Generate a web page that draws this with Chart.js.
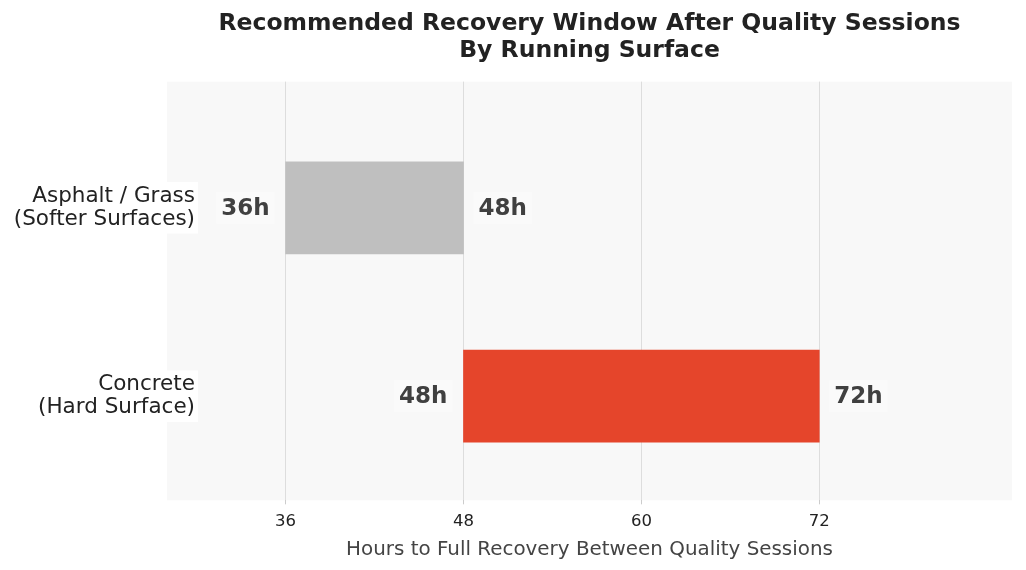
<!DOCTYPE html>
<html>
<head>
<meta charset="utf-8">
<script src="https://cdn.jsdelivr.net/npm/chart.js@4.4.1/dist/chart.umd.min.js"></script>
<style>
  html, body { margin: 0; padding: 0; background: #fff; }
  #wrap { width: 1026px; height: 570px; }
</style>
</head>
<body>
<div id="wrap"><canvas id="recovery"></canvas></div>
<script>
// data
const surfaces = [['Asphalt / Grass', '(Softer Surfaces)'], ['Concrete', '(Hard Surface)']];
const recoveryStart = [36, 48];
const recoveryEnd = [48, 72];
const barColors = ['#bfbfbf', '#e5452b'];
const hourTicks = [36, 48, 60, 72];

Chart.defaults.font.family = "'DejaVu Sans', sans-serif";

const yLabelFont = { size: 21.5, lineHeight: 1.06 };
const yLabelPad = 28; // labels overlap the plot background

// plot background + white box behind the y labels
const plotBg = {
  id: 'plotBg',
  beforeDraw(chart) {
    const {ctx, chartArea: a} = chart;
    const ys = chart.scales.y;
    ctx.save();
    ctx.fillStyle = '#f8f8f8';
    ctx.fillRect(a.left, a.top, a.right - a.left, a.bottom - a.top);
    ctx.font = yLabelFont.size + 'px "DejaVu Sans"';
    ctx.fillStyle = '#ffffff';
    const lh = yLabelFont.size * yLabelFont.lineHeight;
    surfaces.forEach((lines, i) => {
      const w = Math.max(...lines.map(l => ctx.measureText(l).width));
      const y = ys.getPixelForValue(i);
      const h = lh * lines.length;
      const xr = ys.right + yLabelPad;
      ctx.fillRect(xr - w - 3, y - h / 2 - 3, w + 6, h + 6);
    });
    ctx.restore();
  }
};

// "36h" / "48h" labels at both ends of each bar
const endLabels = {
  id: 'endLabels',
  afterDatasetsDraw(chart) {
    const ctx = chart.ctx;
    const meta = chart.getDatasetMeta(0);
    ctx.save();
    ctx.font = 'bold 23px "DejaVu Sans"';
    ctx.textBaseline = 'middle';
    meta.data.forEach((bar, i) => {
      const xs = chart.scales.x.getPixelForValue(recoveryStart[i]);
      const xe = chart.scales.x.getPixelForValue(recoveryEnd[i]);
      const items = [
        {t: recoveryStart[i] + 'h', x: xs - 16, align: 'right'},
        {t: recoveryEnd[i] + 'h', x: xe + 15, align: 'left'}
      ];
      items.forEach(it => {
        const w = ctx.measureText(it.t).width;
        const x0 = it.align === 'right' ? it.x - w : it.x;
        ctx.fillStyle = 'rgba(255,255,255,0.35)';
        ctx.fillRect(x0 - 5, bar.y - 16, w + 10, 32);
        ctx.fillStyle = '#404040';
        ctx.textAlign = it.align;
        ctx.fillText(it.t, it.x, bar.y + 1);
      });
    });
    ctx.restore();
  }
};

const config = {
  type: 'bar',
  data: {
    datasets: [{
      data: surfaces.map((s, i) => ({y: i, x: [recoveryStart[i], recoveryEnd[i]]})),
      backgroundColor: barColors,
      borderWidth: 0,
      barThickness: 92
    }]
  },
  options: {
    indexAxis: 'y',
    responsive: true,
    maintainAspectRatio: false,
    animation: false,
    layout: { padding: { left: 0, right: 14, top: 0, bottom: 8 } },
    plugins: {
      legend: { display: false },
      tooltip: { enabled: false },
      title: {
        display: true,
        fullSize: false,
        text: ['Recommended Recovery Window After Quality Sessions', 'By Running Surface'],
        color: '#222222',
        font: { size: 23.5, weight: 'bold', lineHeight: 1.12 },
        padding: { top: 11, bottom: 18 }
      }
    },
    scales: {
      x: {
        type: 'linear',
        min: 28,
        max: 85,
        afterBuildTicks: (scale) => { scale.ticks = hourTicks.map(v => ({value: v})); },
        ticks: { color: '#222222', font: { size: 16.5 }, padding: 7 },
        grid: { color: '#dddddd', lineWidth: 1, tickLength: 4, tickColor: '#cccccc' },
        border: { display: false },
        title: {
          display: true,
          text: 'Hours to Full Recovery Between Quality Sessions',
          color: '#444444',
          font: { size: 19.9 },
          padding: { top: 0, bottom: 0 }
        }
      },
      y: {
        type: 'linear',
        reverse: true,
        offset: false,
        min: -0.67,
        max: 1.553,
        afterBuildTicks: (scale) => { scale.ticks = surfaces.map((s, i) => ({value: i})); },
        afterFit: (scale) => {
          scale.width = 167;
          // let the labels run into the plot area
          scale._computeLabelArea = () => undefined;
        },
        ticks: {
          color: '#222222',
          font: yLabelFont,
          padding: -yLabelPad,
          callback: (v) => surfaces[v]
        },
        grid: { display: false, drawTicks: false },
        border: { display: false }
      }
    }
  },
  plugins: [plotBg, endLabels]
};

const recoveryChart = new Chart(document.getElementById('recovery'), config);
</script>
</body>
</html>
